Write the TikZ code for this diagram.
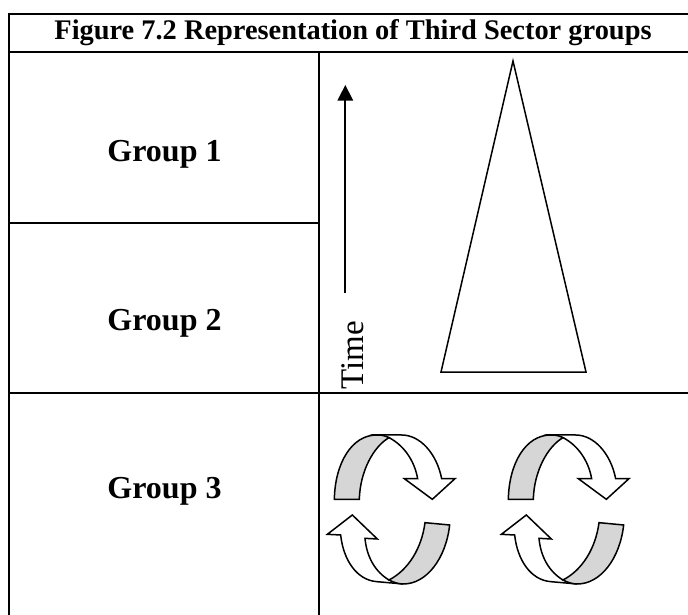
\documentclass[tikz,border=0pt]{standalone}
\usepackage{fontspec}
\setmainfont{Liberation Serif}
\usetikzlibrary{arrows.meta}
\tikzset{
  rule/.style={draw=black,line width=1.9pt},
  shapeline/.style={draw=black,line width=1.5pt,line join=miter},
  band/.style={shapeline,fill=black!16},
  blade/.style={shapeline,fill=white},
  grouplabel/.style={font=\bfseries\fontsize{32}{36}\selectfont,anchor=base,inner sep=0pt},
}
\newcommand{\cyclearrows}[2]{%
\begin{scope}[shift={(#1,400)},x=0.3333pt,y=-0.3333pt]
 \draw[blade] (207,113) .. controls (250,135) and (283,180) .. (293,236) -- (253,236) -- (337,298) -- (405,236) -- (365,236) .. controls (350,160) and (300,105) .. (245,105) -- (170,105) -- cycle;
 \draw[band] (43,298) -- (118,298) .. controls (120,215) and (160,140) .. (207,113) .. controls (195,107) and (185,105) .. (170,105) .. controls (95,105) and (45,190) .. (43,298) -- cycle;
 \draw[blade] (207,540) .. controls (165,515) and (140,470) .. (135,415) -- (172,417) -- (97,345) -- (22,403) -- (62,405) .. controls (70,480) and (110,540) .. (170,545) -- (250,552) -- cycle;
 \draw[band] (207,540) .. controls (265,510) and (305,445) .. (315,368) -- (389,375) .. controls (378,475) and (320,552) .. (250,552) .. controls (235,552) and (220,547) .. (207,540) -- cycle;
\end{scope}}
\begin{document}
\begin{tikzpicture}[x=1pt,y=-1pt]
\useasboundingbox (0,0) rectangle (688,615);
\draw[rule] (9,615) -- (9,14) -- (688,14);
\draw[rule] (8,52) -- (688,52);
\draw[rule] (319,52) -- (319,615);
\draw[rule] (8,223) -- (319,223);
\draw[rule] (8,393) -- (688,393);
\node[font=\bfseries\fontsize{28.4}{30}\selectfont,anchor=base,inner sep=0pt] (title) at (353,39.5) {Figure 7.2 Representation of Third Sector groups};
\node[grouplabel] (g1) at (164.5,161) {Group 1};
\node[grouplabel] (g2) at (164.5,330) {Group 2};
\node[grouplabel] (g3) at (164.5,498) {Group 3};
\coordinate (atail) at (345.3,293);
\coordinate (ahead) at (345.3,85);
\draw[line width=1.7pt,-{Triangle[length=15.7pt,width=15.6pt]}] (atail) -- (ahead);
\node[rotate=90,font=\fontsize{33}{36}\selectfont,anchor=base west,inner sep=0pt] (time) at (363,390) {Time};
\draw[shapeline] (513,61) -- (441,372) -- (586,372) -- cycle;
\cyclearrows{320}{}
\cyclearrows{494}{}
\end{tikzpicture}
\end{document}
